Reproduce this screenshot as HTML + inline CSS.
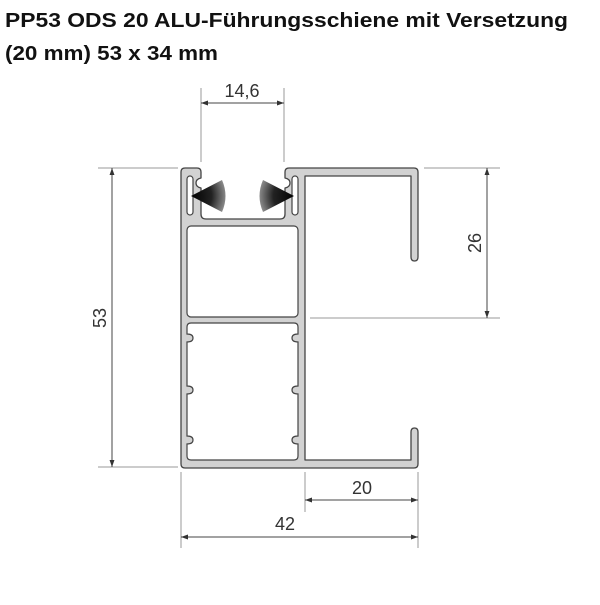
<!DOCTYPE html>
<html><head><meta charset="utf-8"><style>
body{margin:0;background:#fff;width:600px;height:600px;overflow:hidden}
</style></head><body>
<svg width="600" height="600" xmlns="http://www.w3.org/2000/svg" font-family="Liberation Sans, sans-serif">
<defs>
<marker id="a" viewBox="0 0 10 10" refX="10" refY="5" markerWidth="7" markerHeight="7" orient="auto-start-reverse"><path d="M0,1.5 L10,5 L0,8.5 Z" fill="#333"/></marker>
<radialGradient id="gl" cx="0" cy="0.5" r="1"><stop offset="0" stop-color="#000"/><stop offset="0.6" stop-color="#222"/><stop offset="1" stop-color="#888"/></radialGradient>
<radialGradient id="gr" cx="1" cy="0.5" r="1"><stop offset="0" stop-color="#000"/><stop offset="0.6" stop-color="#222"/><stop offset="1" stop-color="#888"/></radialGradient>
</defs>
<text x="5" y="27" font-size="20" font-weight="bold" fill="#111" textLength="563" lengthAdjust="spacingAndGlyphs">PP53 ODS 20 ALU-Führungsschiene mit Versetzung</text>
<text x="5" y="60" font-size="20" font-weight="bold" fill="#111" textLength="213" lengthAdjust="spacingAndGlyphs">(20 mm) 53 x 34 mm</text>

<g stroke="#999" stroke-width="1" fill="none">
<line x1="201" y1="88" x2="201" y2="162"/><line x1="284" y1="88" x2="284" y2="162"/>
<line x1="98" y1="168" x2="178" y2="168"/><line x1="98" y1="467" x2="178" y2="467"/>
<line x1="424" y1="168" x2="500" y2="168"/><line x1="310" y1="318" x2="500" y2="318"/>
<line x1="305" y1="472" x2="305" y2="512"/><line x1="418" y1="472" x2="418" y2="548"/>
<line x1="181" y1="472" x2="181" y2="548"/>
</g>
<g stroke="#444" stroke-width="1" fill="none">
<line x1="201" y1="103" x2="284" y2="103" marker-start="url(#a)" marker-end="url(#a)"/>
<line x1="112" y1="168" x2="112" y2="467" marker-start="url(#a)" marker-end="url(#a)"/>
<line x1="487" y1="168" x2="487" y2="318" marker-start="url(#a)" marker-end="url(#a)"/>
<line x1="305" y1="500" x2="418" y2="500" marker-start="url(#a)" marker-end="url(#a)"/>
<line x1="181" y1="537" x2="418" y2="537" marker-start="url(#a)" marker-end="url(#a)"/>
</g>
<g font-size="18" fill="#333" text-anchor="middle">
<text x="242" y="97">14,6</text>
<text x="362" y="494">20</text>
<text x="285" y="530">42</text>
<text transform="translate(106,318) rotate(-90)">53</text>
<text transform="translate(481,243) rotate(-90)">26</text>
</g>

<path d="M185,168 L197,168 Q201,168 201,172 L201,178 Q196,179 196,183 Q196,187 201,188 L201,214 Q201,219 206,219 L280,219 Q285,219 285,214 L285,188 Q290,187 290,183 Q290,179 285,178 L285,172 Q285,168 289,168 L414,168 Q418,168 418,172 L418,257 Q418,261 414.5,261 Q411,261 411,257 L411,176 L305,176 L305,460 L411,460 L411,432 Q411,428 414.5,428 Q418,428 418,432 L418,464 Q418,468 414,468 L185,468 Q181,468 181,464 L181,172 Q181,168 185,168 Z" fill="#d2d2d2" stroke="#444" stroke-width="1.3" stroke-linejoin="round"/>
<g fill="#fff" stroke="#444" stroke-width="1.2">
<rect x="187" y="226" width="111" height="91" rx="4"/>
<path d="M191,323 L294,323 Q298,323 298,327 L298,334 Q292,334 292,338 Q292,342 298,342 L298,386 Q292,386 292,390 Q292,394 298,394 L298,436 Q292,436 292,440 Q292,444 298,444 L298,456 Q298,460 294,460 L191,460 Q187,460 187,456 L187,444 Q193,444 193,440 Q193,436 187,436 L187,394 Q193,394 193,390 Q193,386 187,386 L187,342 Q193,342 193,338 Q193,334 187,334 L187,327 Q187,323 191,323 Z"/>
<rect x="187" y="176" width="6" height="39" rx="3"/>
<rect x="292" y="176" width="6" height="39" rx="3"/>
</g>
<path d="M191,196 L222,180 Q229,196 222,212 Z" fill="url(#gl)"/>
<path d="M294,196 L263,180 Q256,196 263,212 Z" fill="url(#gr)"/>
</svg>
</body></html>
